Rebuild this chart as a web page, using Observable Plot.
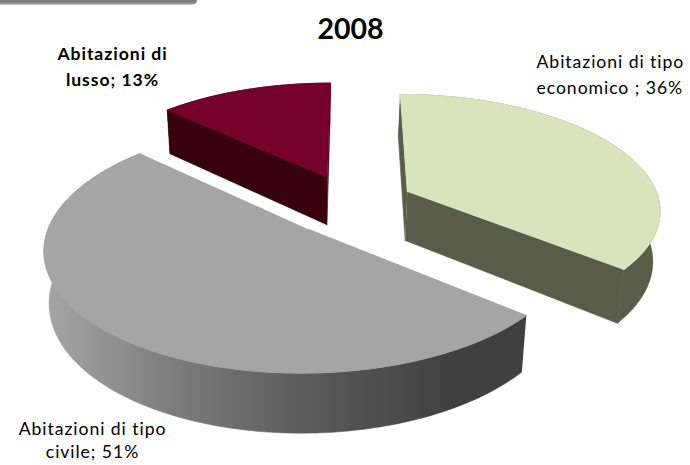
<!DOCTYPE html>
<html><head><meta charset="utf-8">
<script src="https://cdn.jsdelivr.net/npm/d3@7"></script>
<script src="https://cdn.jsdelivr.net/npm/@observablehq/plot@0.6"></script>
<style>
html,body{margin:0;padding:0;background:#fff}
svg{display:block}
#chart{position:relative;width:690px;height:465px;overflow:hidden}
#banner{position:absolute;left:0;top:0;width:197px;height:5px;border-bottom-right-radius:6px;background:linear-gradient(#7a7a7a 0,#808080 50%,#b0b0b0 85%,#e0e0e0 100%)}
.spaced text{letter-spacing:.95px}
</style>
</head><body><div id="chart"><div id="banner"></div></div>
<script>
const categories = ["Abitazioni di tipo economico", "Abitazioni di tipo civile", "Abitazioni di lusso"];
const values = [36, 51, 13];
const topColors = ["#d7e4bc", "#a5a5a5", "#76002c"];
const sideColors = ["#595c49", "url(#side)", "#36000f"];
const title = "2008";
const labels = ["Abitazioni di tipo\neconomico ; 36%", "Abitazioni di tipo\ncivile; 51%", "Abitazioni di\nlusso; 13%"];

// Pie layout, clockwise from 12 o'clock, seen through a tilted perspective.
const W = 690, H = 465;
const view = {cx: 351, cy: 204.5, R: 253, Q: 115, horizon: 792.6, explodeX: 0.248, explodeY: 0.275, depth: 49.5, lowerScale: 0.98, lowerShift: -50};
const arcs = d3.pie().sort(null)(values);

function project(a, r, s, lower) {
  const mid = (s.startAngle + s.endAngle) / 2;
  const px = r * Math.sin(a) + view.explodeX * Math.sin(mid);
  const py = -r * Math.cos(a) - view.explodeY * Math.cos(mid);
  const q = view.Q * py;
  const t = q / (1 - q / view.horizon);
  const w = 1 + t / view.horizon;
  const dx = view.R * px * w;
  const x = lower ? view.lowerShift + (dx - view.lowerShift) * view.lowerScale : dx;
  return {x: view.cx + x, y: view.cy + t + (lower ? view.depth * w : 0)};
}
function angles(s) { return d3.range(0, 121).map(i => s.startAngle + (s.endAngle - s.startAngle) * i / 120); }
const topFace = s => [project(0, 0, s), ...angles(s).map(a => project(a, 1, s))];
const arcWall = s => [...angles(s).map(a => project(a, 1, s)), ...angles(s).reverse().map(a => project(a, 1, s, true))];
const cutWall = (s, a) => [project(0, 0, s), project(a, 1, s), project(a, 1, s, true), project(0, 0, s, true)];
const face = (pts, fill) => Plot.line(pts, {x: "x", y: "y", fill, stroke: fill, strokeWidth: 0.6});
const upperFace = (pts, fill) => Plot.line(pts, {x: "x", y: "y", fill, stroke: fill, strokeWidth: 1});

const marks = [];
const gradient = () => {
  const defs = d3.create("svg:defs");
  const g = defs.append("linearGradient").attr("id", "side").attr("x1", 0).attr("x2", 1).attr("y1", 0).attr("y2", 0);
  [[0, "#a6a6a6"], [0.25, "#7f7f7f"], [0.55, "#5a5a5a"], [0.85, "#404040"], [1, "#404040"]].forEach(([o, c]) =>
    g.append("stop").attr("offset", o).attr("stop-color", c));
  return defs.node();
};
marks.push(gradient);
// green and red show their cut faces; grey hides them behind its top
[0, 2, 1].forEach(i => {
  const s = arcs[i];
  if (i !== 1) {
    marks.push(face(cutWall(s, s.startAngle), sideColors[i]));
    marks.push(face(cutWall(s, s.endAngle), sideColors[i]));
  }
  marks.push(face(arcWall(s), sideColors[i]));
  marks.push(upperFace(topFace(s), topColors[i]));
});

const font = {fontFamily: "Lato, Carlito, sans-serif", fill: "#000", lineAnchor: "top", lineHeight: 1.47, fontSize: 17.6, className: "spaced"};
const label = (text, opts) => Plot.text([text], {text: d => d, frameAnchor: "top-left", ...font, ...opts});
marks.push(Plot.text([title], {text: d => d, frameAnchor: "top", dx: 5, dy: 18, fontSize: 28.5, fontWeight: 700, fontFamily: font.fontFamily, fill: "#000", lineAnchor: "top"}));
marks.push(label(labels[2], {dx: 112, dy: 41, fontWeight: 700, textAnchor: "middle"}));
marks.push(label(labels[0], {dx: 536, dy: 49, textAnchor: "start"}));
marks.push(label(labels[1], {dx: 92, dy: 417, lineHeight: 1.36, textAnchor: "middle"}));

const chart = Plot.plot({
  width: W, height: H, margin: 0,
  x: {type: "linear", domain: [0, W], range: [0, W], axis: null},
  y: {type: "linear", domain: [0, H], range: [0, H], axis: null},
  style: {background: "transparent", overflow: "hidden"},
  marks
});
document.getElementById("chart").appendChild(chart);
</script></body></html>
